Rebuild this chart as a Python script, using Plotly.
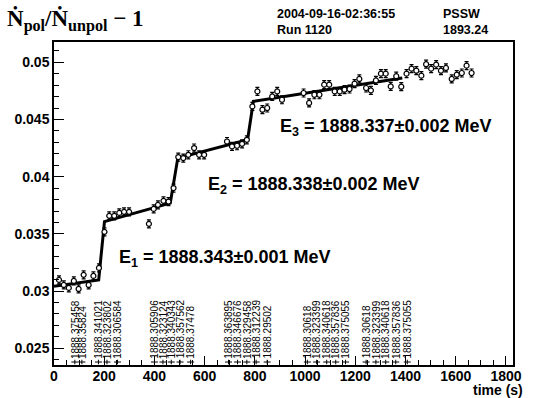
import plotly.graph_objects as go

# ---------------- data ----------------
t_pts = [20, 39, 59, 79, 98, 118, 138, 157, 179, 201, 220, 240, 260, 279, 299,
         378, 397, 414, 436, 456, 476, 495, 515, 535, 558, 578, 598,
         689, 709, 729, 749, 768, 790, 810, 830, 849, 869, 889, 908,
         994, 1016, 1037, 1057, 1076, 1096, 1118, 1138, 1157, 1177, 1197, 1216,
         1243, 1262, 1282, 1302, 1321, 1341, 1363, 1383, 1404, 1424, 1443, 1463,
         1482, 1502, 1522, 1541, 1561, 1584, 1604, 1624, 1643, 1663]
v_pts = [0.03098, 0.03054, 0.03028, 0.03089, 0.03019, 0.03142, 0.03054, 0.03133, 0.03203, 0.03518,
         0.03658, 0.03658, 0.03684, 0.03693, 0.03693,
         0.03588, 0.03719, 0.03754, 0.03789, 0.03783, 0.03901, 0.04172, 0.04163, 0.04192, 0.04251,
         0.04192, 0.04192,
         0.04308, 0.04265, 0.04271, 0.04288, 0.04323, 0.04615, 0.04746, 0.04586, 0.04601, 0.04702,
         0.04746, 0.04673,
         0.04732, 0.04645, 0.04717, 0.04717, 0.04805, 0.04805, 0.04746, 0.04746, 0.04761, 0.04767,
         0.04814, 0.04855,
         0.04776, 0.04755, 0.04842, 0.04901, 0.04901, 0.04790, 0.04879, 0.04787, 0.04901, 0.04945,
         0.04927, 0.04884,
         0.04984, 0.04945, 0.04980, 0.04927, 0.04951, 0.04855, 0.04892, 0.04907, 0.04971, 0.04907]
ERR = 0.00035

fit_t = [0, 178, 201, 463, 493, 771, 794, 1387]
fit_v = [0.03043, 0.03098, 0.03608, 0.03769, 0.04163, 0.04323, 0.04659, 0.04863]

label_t = [83, 111, 177, 211, 253, 400, 434, 467, 502, 544, 695, 731, 768, 805, 849,
           1009, 1046, 1086, 1122, 1161, 1243, 1282, 1321, 1361, 1407]
label_text = ["1888.375458", "1888.35824", "1888.341021", "1888.323802", "1888.306584",
              "1888.305906", "1888.323124", "1888.340343", "1888.357562", "1888.37478",
              "1888.363895", "1888.346676", "1888.329458", "1888.312239", "1888.29502",
              "1888.30618", "1888.323399", "1888.340618", "1888.357836", "1888.375055",
              "1888.30618", "1888.323399", "1888.340618", "1888.357836", "1888.375055"]

energy_text = ["E<sub>1</sub> = 1888.343±0.001 MeV",
               "E<sub>2</sub> = 1888.338±0.002 MeV",
               "E<sub>3</sub> = 1888.337±0.002 MeV"]

x_tickvals = [0, 200, 400, 600, 800, 1000, 1200, 1400, 1600, 1800]
y_tickvals = [0.025, 0.03, 0.035, 0.04, 0.045, 0.05]
y_ticktext = ["0.025", "0.03", "0.035", "0.04", "0.045", "0.05"]

X_RANGE = [0, 1828]
Y_RANGE = [0.02354, 0.05178]

# ---------------- layout helpers ----------------
W, H = 534, 398
L, R, T, B = 54, 15, 42, 33
PW, PH = W - L - R, H - T - B


def px_to_paper(px, py):
    return (px - L) / PW, (H - B - py) / PH


FONT = "Liberation Sans"
fig = go.Figure()

# label markers at the bottom
fig.add_trace(go.Scatter(
    x=label_t, y=[0.0238] * len(label_t), mode="markers",
    marker=dict(symbol="line-ew", size=5, line=dict(color="black", width=1)),
    error_y=dict(type="constant", value=0.0002, color="black", thickness=1, width=0),
    showlegend=False, hoverinfo="skip"))

# fit line
fig.add_trace(go.Scatter(
    x=fit_t, y=fit_v, mode="lines",
    line=dict(color="black", width=3), showlegend=False))

# data points
fig.add_trace(go.Scatter(
    x=t_pts, y=v_pts, mode="markers",
    marker=dict(symbol="circle", size=5, color="white", line=dict(color="black", width=1.2)),
    error_y=dict(type="constant", value=ERR, color="black", thickness=1.2, width=2),
    showlegend=False))

annotations = []
for tx, tt in zip(label_t, label_text):
    annotations.append(dict(
        x=tx, y=0.02400, xref="x", yref="y", text=tt, textangle=-90,
        showarrow=False, xanchor="center", yanchor="bottom",
        font=dict(family=FONT, size=10, color="black"), borderpad=0))

# energy annotations (left px, centre py)
e_pos = [(118, 258), (208, 185), (281, 128)]
for (px, py), txt in zip(e_pos, energy_text):
    xp, yp = px_to_paper(px, py)
    annotations.append(dict(
        x=xp, y=yp, xref="paper", yref="paper", text=txt, showarrow=False,
        xanchor="left", yanchor="middle",
        font=dict(family=FONT, size=18, color="black", weight="bold")))

# header texts
hdr = [("2004-09-16-02:36:55", 279, 14.5), ("Run 1120", 279, 29.5),
       ("PSSW", 447, 14.5), ("1893.24", 447, 29.5)]
for txt, px, py in hdr:
    xp, yp = px_to_paper(px, py)
    annotations.append(dict(
        x=xp, y=yp, xref="paper", yref="paper", text=txt, showarrow=False,
        xanchor="left", yanchor="middle", borderpad=0,
        font=dict(family=FONT, size=12.5, color="black", weight="bold")))

# x axis title
xp, yp = px_to_paper(530, 389.5)
annotations.append(dict(
    x=xp, y=yp, xref="paper", yref="paper", text="time (s)", showarrow=False,
    xanchor="right", yanchor="middle", borderpad=0,
    font=dict(family=FONT, size=14, color="black", weight="bold")))

# main title
xp, yp = px_to_paper(4, 20)
annotations.append(dict(
    x=xp, y=yp, xref="paper", yref="paper",
    text="N\u0307<sub>pol</sub>/N\u0307<sub>unpol</sub> \u2212 1", showarrow=False,
    xanchor="left", yanchor="middle",
    font=dict(family="Liberation Serif", size=23, color="black", weight="bold")))

axis_common = dict(showline=True, linecolor="black", linewidth=1.5, mirror=True,
                   showgrid=False, zeroline=False, ticks="inside", tickcolor="black",
                   tickwidth=1,
                   tickfont=dict(family=FONT, size=14, color="black", weight="bold"))

fig.update_layout(
    width=W, height=H, margin=dict(l=L, r=R, t=T, b=B),
    paper_bgcolor="white", plot_bgcolor="white",
    xaxis=dict(range=X_RANGE, tickvals=x_tickvals, ticklen=9, ticklabelstandoff=-3,
               minor=dict(dtick=50, tick0=0, ticklen=5, ticks="inside", tickcolor="black"),
               **axis_common),
    yaxis=dict(range=Y_RANGE, tickvals=y_tickvals, ticktext=y_ticktext, ticklen=10,
               minor=dict(dtick=0.001, tick0=0, ticklen=5, ticks="inside", tickcolor="black"),
               **axis_common),
    annotations=annotations,
)

fig.write_html("out.html")
